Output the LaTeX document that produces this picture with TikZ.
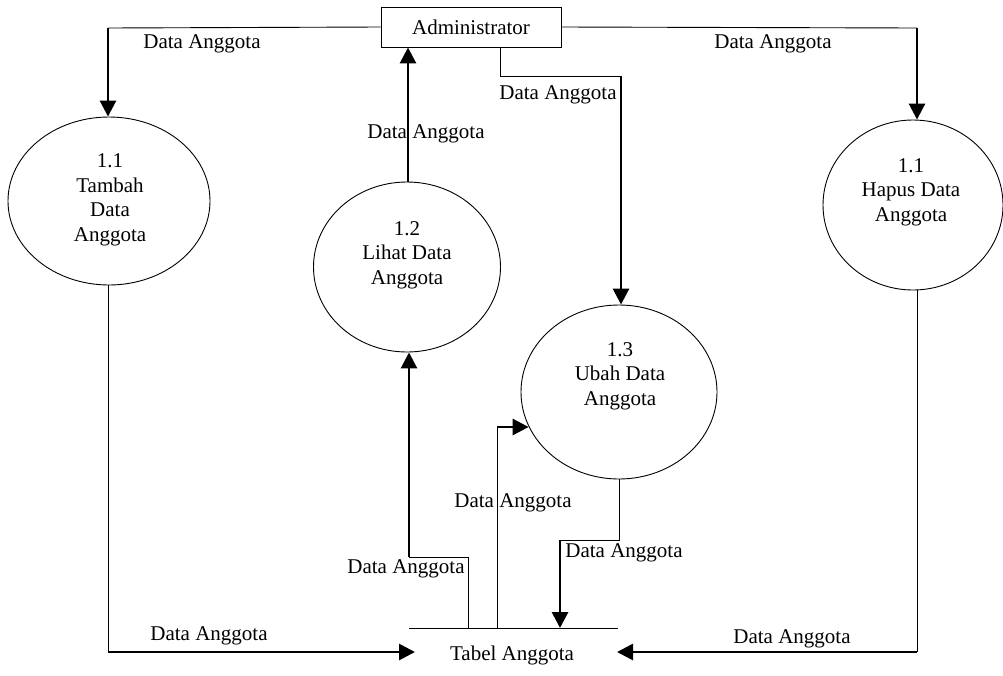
\documentclass[tikz,border=0pt]{standalone}
\usepackage{fontspec}
\setmainfont{Liberation Serif}
\usetikzlibrary{shapes.geometric,arrows.meta}

\begin{document}
\begin{tikzpicture}[x=1pt,y=-1pt,
  every node/.style={font=\fontsize{21}{24.5}\selectfont, inner sep=0pt},
  entity/.style={draw, line width=0.9pt, minimum width=180pt, minimum height=40pt},
  proc/.style={draw, ellipse, line width=0.9pt},
  ptext/.style={align=center},
  flow/.style={line width=0.9pt},
  dflow/.style={line width=2.8pt, -{Triangle[length=16pt,width=16pt]}},
  lbl/.style={}
]
\useasboundingbox (0,0) rectangle (1003,675);

% external entity
\node[entity] (admin) at (471,27) {Administrator};

% processes
\node[proc, minimum width=202pt, minimum height=168pt] (tambah) at (109,201) {};
\node[proc, minimum width=187pt, minimum height=170pt] (lihat) at (407,267) {};
\node[proc, minimum width=196pt, minimum height=174pt] (ubah) at (619,392) {};
\node[proc, minimum width=180pt, minimum height=170pt] (hapus) at (913,205) {};

\node[ptext] (tambahT) at (110,200) {1.1\\Tambah\\Data\\Anggota};
\node[ptext] (lihatT) at (407,255) {1.2\\Lihat Data\\Anggota};
\node[ptext] (ubahT) at (620,376) {1.3\\Ubah Data\\Anggota};
\node[ptext] (hapusT) at (911,192) {1.1\\Hapus Data\\Anggota};

% data store
\coordinate (s1) at (409,628);
\coordinate (s2) at (618,628);
\draw[flow] (s1) -- (s2);
\node (store) at (512,655) {Tabel Anggota};

% Administrator -> Tambah
\coordinate (a1) at (108,28);
\draw[flow] (admin.west) -- (a1);
\draw[dflow] (a1) -- (a1 |- tambah.north);

% Administrator -> Hapus
\coordinate (a2) at (917,28);
\draw[flow] (admin.east) -- (a2);
\draw[dflow] (a2) -- (a2 |- hapus.north);

% Administrator -> Ubah
\coordinate (b1) at (500,76);
\coordinate (b2) at (621,76);
\draw[flow] (b1 |- admin.south) -- (b1) -- (b2);
\draw[dflow] (b2) -- (b2 |- ubah.north);

% Lihat -> Administrator
\coordinate (c1) at (408,182);
\draw[dflow] (c1) -- (c1 |- admin.south);

% Tabel -> Lihat
\coordinate (l1) at (468,628);
\coordinate (l2) at (468,557);
\coordinate (l3) at (409,557);
\draw[flow] (l1) -- (l2) -- (l3);
\draw[dflow] (l3) -- (l3 |- lihat.south);

% Tabel -> Ubah
\coordinate (u1) at (497,628);
\coordinate (u2) at (497,427);
\draw[flow] (u1) -- (u2);
\draw[dflow] (u2) -- (ubah.201 |- u2);

% Ubah -> Tabel
\coordinate (v1) at (619,540);
\coordinate (v2) at (560,540);
\draw[flow] (ubah.south) -- (v1) -- (v2);
\draw[dflow] (v2) -- (v2 |- s1);

% Tambah -> Tabel
\coordinate (t1) at (108,652);
\coordinate (t2) at (415,652);
\draw[flow] (a1 |- tambah.south) -- (t1);
\draw[dflow] (t1) -- (t2);

% Hapus -> Tabel
\coordinate (h1) at (917,652);
\coordinate (h2) at (617,652);
\draw[flow] (h1 |- hapus.south) -- (h1);
\draw[dflow] (h1) -- (h2);

% flow labels
\node[lbl] (d1) at (202,44) {Data Anggota};
\node[lbl] (d2) at (773,44) {Data Anggota};
\node[lbl] (d3) at (558,95) {Data Anggota};
\node[lbl] (d4) at (426,134) {Data Anggota};
\node[lbl] (d5) at (513,503) {Data Anggota};
\node[lbl] (d6) at (406,569) {Data Anggota};
\node[lbl] (d7) at (624,553) {Data Anggota};
\node[lbl] (d8) at (209,636) {Data Anggota};
\node[lbl] (d9) at (792,639) {Data Anggota};
\end{tikzpicture}
\end{document}
